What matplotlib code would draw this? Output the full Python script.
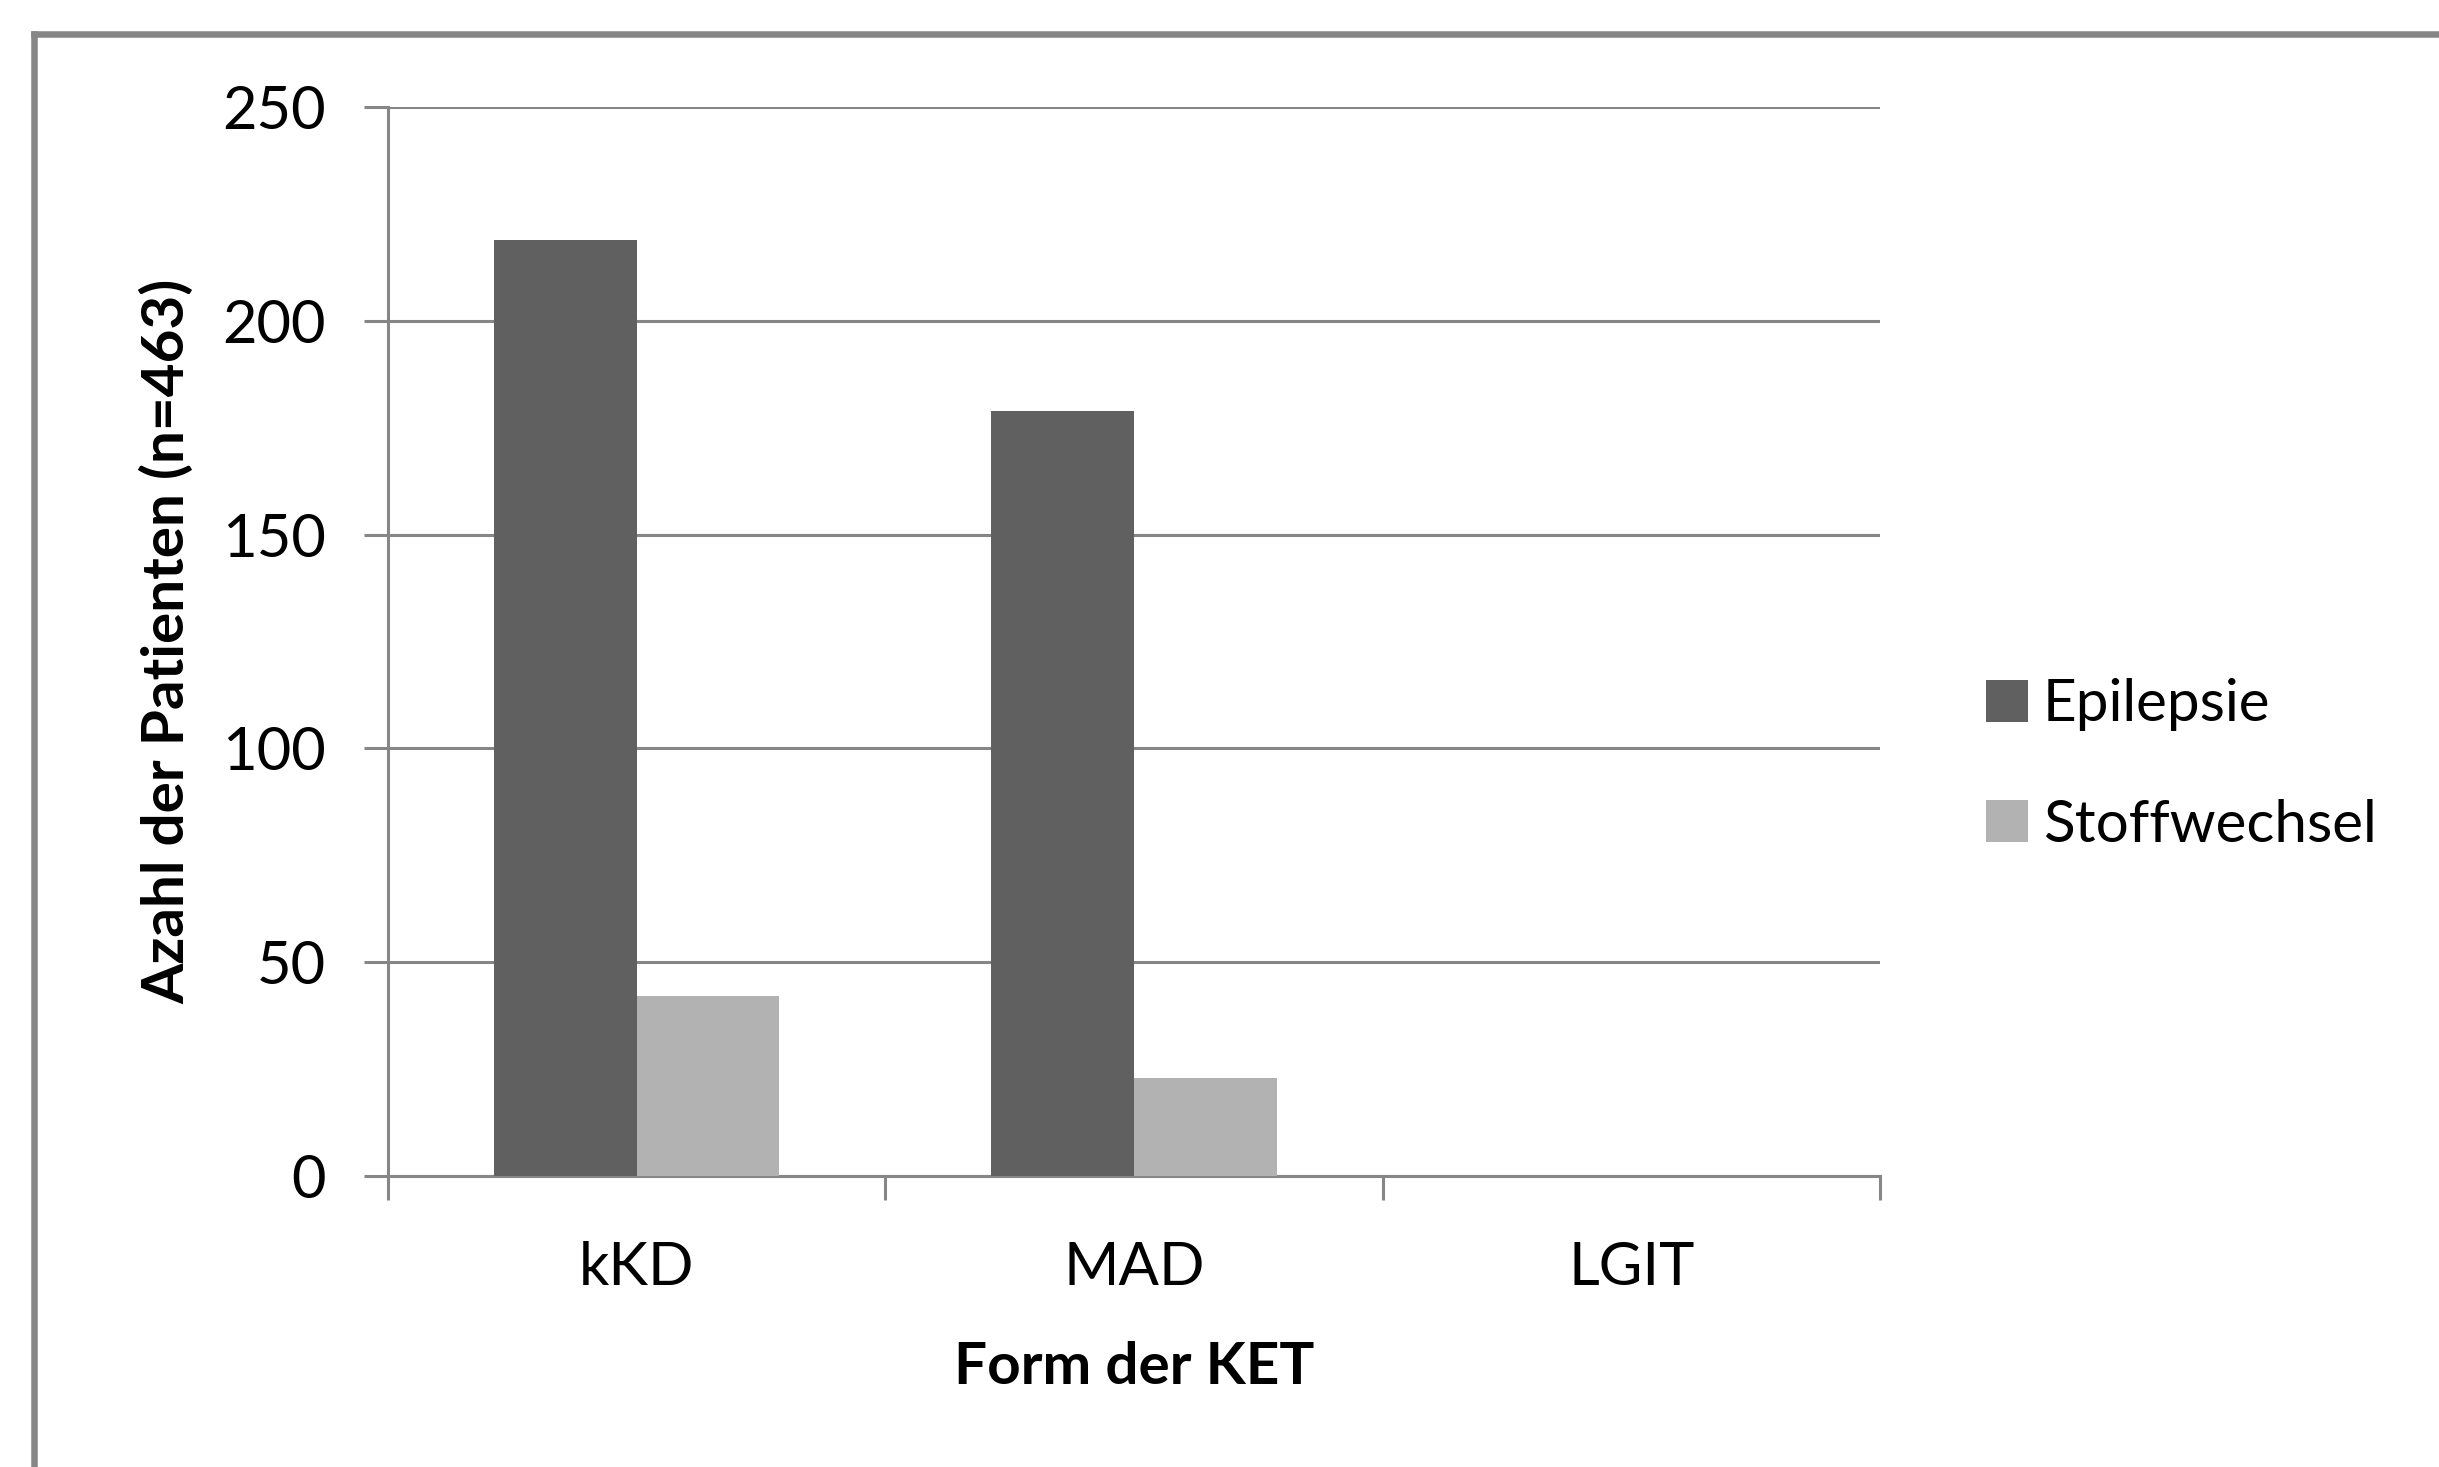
import numpy as np
import matplotlib
matplotlib.use("Agg")
import matplotlib.pyplot as plt
from matplotlib.lines import Line2D

categories = ["kKD", "MAD", "LGIT"]
epilepsie = [219, 179, 0]
stoffwechsel = [42, 23, 0]
series_labels = ["Epilepsie", "Stoffwechsel"]
yticks = [0, 50, 100, 150, 200, 250]

plt.rcParams['font.family'] = ['Lato', 'DejaVu Sans']

W, H = 2439, 1467
fig = plt.figure(figsize=(W / 100, H / 100), dpi=100)
fig.patch.set_facecolor('white')

# axes placement (pixels)
ax_l, ax_r, ax_t, ax_b = 388, 1880, 107, 1176
ax = fig.add_axes([ax_l / W, 1 - ax_b / H, (ax_r - ax_l) / W, (ax_b - ax_t) / H])

grid_col = '#868686'
c_epi = '#606060'
c_sto = '#b2b2b2'

x = np.arange(len(categories))
w = 0.2866
b1 = ax.bar(x - w / 2, epilepsie, width=w, color=c_epi, label=series_labels[0], zorder=3)
b2 = ax.bar(x + w / 2, stoffwechsel, width=w, color=c_sto, label=series_labels[1], zorder=3)

ax.set_xlim(-0.5, 2.5)
ax.set_ylim(0, 250)
ax.set_yticks(yticks)
ax.set_yticklabels([str(v) for v in yticks])
ax.yaxis.grid(True, color=grid_col, linewidth=2.2, zorder=0)
ax.set_axisbelow(True)

for s in ['top', 'right']:
    ax.spines[s].set_visible(False)
for s in ['left', 'bottom']:
    ax.spines[s].set_color(grid_col)
    ax.spines[s].set_linewidth(2.2)

ax.tick_params(axis='y', length=17, width=2.2, color=grid_col, pad=28,
               labelsize=43, labelcolor='black')
ax.set_xticks(x)
ax.set_xticklabels(categories)
ax.set_xticks(np.arange(-0.5, 3.0, 1.0), minor=True)
ax.tick_params(axis='x', which='major', length=0, pad=47, labelsize=43, labelcolor='black')
ax.tick_params(axis='x', which='minor', length=17, width=2.2, color=grid_col)

ax.set_xlabel("Form der KET", fontsize=42, fontweight='bold', labelpad=33)
ax.set_ylabel("Azahl der Patienten (n=463)", fontsize=42, fontweight='bold', labelpad=20)

fig.legend(handles=[b1, b2], labels=series_labels, loc='center left',
           bbox_to_anchor=(1986 / W, 1 - 765 / H), frameon=False,
           fontsize=42, handlelength=0.72, handleheight=0.72,
           handletextpad=0.25, labelspacing=1.15, borderpad=0, borderaxespad=0)

# outer frame (top and left edges visible)
fig.add_artist(Line2D([34 / W, 1.0], [1 - 34 / H, 1 - 34 / H], transform=fig.transFigure,
                      color=grid_col, linewidth=4.7, solid_capstyle='projecting'))
fig.add_artist(Line2D([34 / W, 34 / W], [0.0, 1 - 34 / H], transform=fig.transFigure,
                      color=grid_col, linewidth=4.7, solid_capstyle='projecting'))

fig.savefig("out.png", dpi=100, facecolor='white')
